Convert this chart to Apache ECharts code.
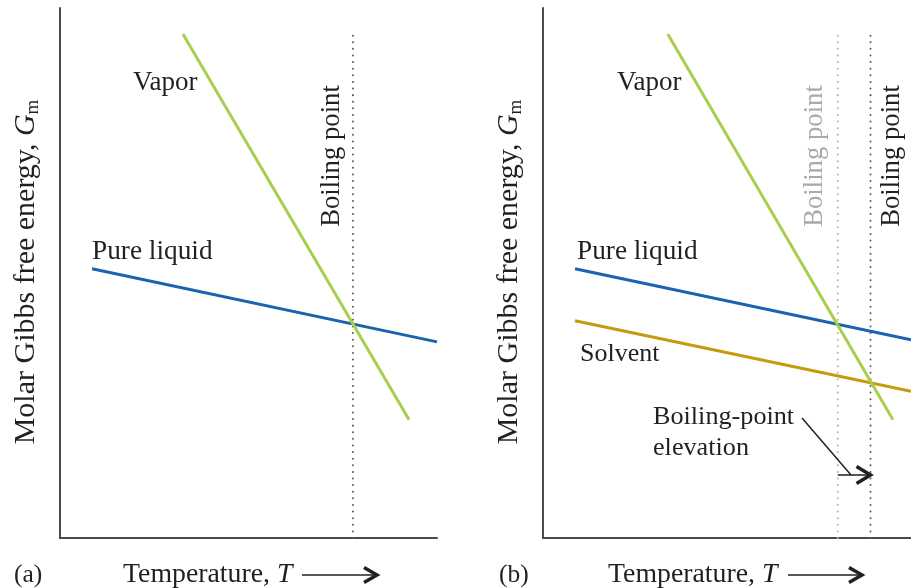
<!DOCTYPE html>
<html><head><meta charset="utf-8">
<script src="https://cdn.jsdelivr.net/npm/echarts@6/dist/echarts.min.js"></script>
<style>html,body{margin:0;padding:0;background:#fff}#c{width:911px;height:588px}</style>
</head><body><div id="c"></div>
<script>
// ---- Data (axis units: temperature 0-100, molar Gibbs energy 0-100) ----
// Panel (a)
const vaporA = [[32.6, 95.1], [92.6, 22.3]];
const liquidA = [[8.5, 50.8], [100, 37.0]];
const boilA = 77.7;
const boilTopA = 95.1;
// Panel (b)
const vaporB = [[33.9, 95.1], [95.1, 22.3]];
const liquidB = [[8.7, 50.8], [100, 37.4]];
const solventB = [[8.7, 41.0], [100, 27.7]];
const boilPureB = 80.1;
const boilSolB = 89.0;
const boilTopB = 95.1;
const elevArrowY = 11.9;

const FONT = '"Liberation Serif", "DejaVu Serif", serif';
const INK = '#231f20';
const GREEN = '#a7cf4c';
const BLUE = '#1b63ae';
const GOLD = '#c39b0c';

const chart = echarts.init(document.getElementById('c'), null, {renderer: 'canvas'});

function axis(idx, max) {
  return {
    type: 'value', gridIndex: idx, min: 0, max: max,
    axisLine: {show: true, onZero: false, lineStyle: {color: '#4a4a4a', width: 2}},
    axisTick: {show: false}, axisLabel: {show: false}, splitLine: {show: false}
  };
}
function curve(data, idx, color) {
  return {type: 'line', xAxisIndex: idx, yAxisIndex: idx, data: data, showSymbol: false,
    silent: true, lineStyle: {color: color, width: 3}, z: 3};
}
function dotted(x, top, idx, color) {
  return {type: 'line', xAxisIndex: idx, yAxisIndex: idx, data: [[x, 0], [x, top]], showSymbol: false,
    silent: true, lineStyle: {color: color, width: 2, type: [0.01, 6.6], cap: 'round'}, z: 2};
}

function txt(x, y, text, opts) {
  opts = opts || {};
  return {
    type: 'text', x: x, y: y, rotation: opts.rot || 0, z: 10,
    style: Object.assign({
      text: text, fontFamily: FONT, fontSize: opts.size || 26, fill: opts.color || INK,
      align: opts.align || 'left', verticalAlign: 'middle'
    }, opts.rich ? {rich: opts.rich} : {})
  };
}

function richSet(size, subSize) {
  return {
    it: {fontFamily: FONT, fontSize: size, fontStyle: 'italic', fill: INK, lineHeight: size + 4},
    n: {fontFamily: FONT, fontSize: size, fill: INK, lineHeight: size + 4},
    sub: {fontFamily: FONT, fontSize: subSize, fill: INK, lineHeight: Math.round(size * 0.45), verticalAlign: 'bottom'}
  };
}
const richY = richSet(30, 19);
const richX = richSet(27.8, 18);

chart.setOption({
  animation: false,
  backgroundColor: '#fff',
  grid: [
    {left: 60, top: 8, width: 377, height: 530},
    {left: 543, top: 8, width: 368, height: 530}
  ],
  xAxis: [axis(0, 100), axis(1, 100)],
  yAxis: [axis(0, 100), axis(1, 100)],
  series: [
    dotted(boilA, boilTopA, 0, '#5a5a5a'),
    curve(liquidA, 0, BLUE),
    curve(vaporA, 0, GREEN),
    dotted(boilPureB, boilTopB, 1, '#b0b0b0'),
    dotted(boilSolB, boilTopB, 1, '#5a5a5a'),
    curve(liquidB, 1, BLUE),
    curve(solventB, 1, GOLD),
    curve(vaporB, 1, GREEN)
  ]
});

// Arrow between the two boiling points in panel (b)
const p1 = chart.convertToPixel({gridIndex: 1}, [boilPureB, elevArrowY]);
const p2 = chart.convertToPixel({gridIndex: 1}, [boilSolB, elevArrowY]);

function chevron(x, y, w, h, lw) {
  return {type: 'polyline', z: 10, shape: {points: [[x - w, y - h], [x, y], [x - w, y + h]]},
    style: {stroke: INK, lineWidth: lw, fill: null, lineJoin: 'miter'}};
}
function seg(x1, y1, x2, y2, lw) {
  return {type: 'line', z: 10, shape: {x1: x1, y1: y1, x2: x2, y2: y2}, style: {stroke: INK, lineWidth: lw}};
}

const graphics = [
  // panel (a) labels
  txt(133, 83, 'Vapor', {size: 27}),
  txt(92, 252, 'Pure liquid', {size: 27.3}),
  txt(332, 156, 'Boiling point', {rot: Math.PI / 2, align: 'center', size: 26.7}),
  txt(26, 272, '{n|Molar Gibbs free energy, }{it|G}{sub|m}', {rot: Math.PI / 2, align: 'center', rich: richY}),
  txt(14, 575, '(a)', {size: 25.5}),
  txt(123, 575, '{n|Temperature, }{it|T}', {rich: richX}),
  seg(302, 575, 376, 575, 1.5),
  chevron(377, 575, 13, 7.5, 3.5),
  // panel (b) labels
  txt(617, 83, 'Vapor', {size: 27}),
  txt(577, 252, 'Pure liquid', {size: 27.3}),
  txt(580, 354, 'Solvent', {size: 26}),
  txt(815, 156, 'Boiling point', {rot: Math.PI / 2, align: 'center', color: '#a9a9a9', size: 26.7}),
  txt(892, 156, 'Boiling point', {rot: Math.PI / 2, align: 'center', size: 26.7}),
  txt(509, 272, '{n|Molar Gibbs free energy, }{it|G}{sub|m}', {rot: Math.PI / 2, align: 'center', rich: richY}),
  txt(653, 417, 'Boiling-point', {size: 26.2}),
  txt(653, 448, 'elevation', {size: 26.2}),
  txt(499, 575, '(b)', {size: 25.5}),
  txt(608, 575, '{n|Temperature, }{it|T}', {rich: richX}),
  seg(788, 575, 861, 575, 1.5),
  chevron(862, 575, 13, 7.5, 3.5),
  // boiling-point elevation arrow + leader
  seg(p1[0], p1[1], p2[0] - 1, p2[1], 1.5),
  chevron(p2[0], p2[1], 14, 8.5, 3.5),
  seg(802, 418, 851, p1[1], 1.5)
];
chart.setOption({graphic: graphics});
</script>
</body></html>
